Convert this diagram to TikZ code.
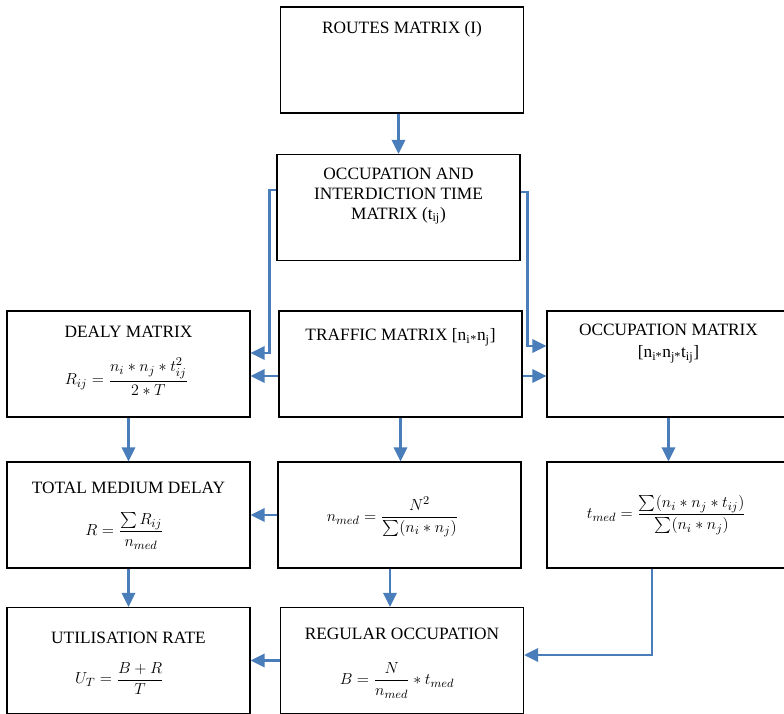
\documentclass[tikz,border=0pt]{standalone}
\usepackage{amsmath}
\usepackage{fontspec}
\setmainfont{Liberation Serif}
\usetikzlibrary{positioning, calc, arrows.meta}
\definecolor{linkblue}{HTML}{4A7EBB}
\tikzstyle{box} = [rectangle, minimum width=182.25pt, minimum height=79.5pt, draw=black, line width=0.9pt, inner sep=0pt]
\tikzstyle{title} = [align=center, font=\fontsize{13}{15}\selectfont, inner sep=0pt]
\tikzstyle{formula} = [font=\fontsize{13}{15}\selectfont, inner sep=0pt]
\tikzstyle{arrow} = [-{Triangle[length=10.5pt,width=10pt]}, draw=linkblue, line width=1.9pt]
\newcommand{\smsum}{{\textstyle\sum}}

\begin{document}
\begin{tikzpicture}[x=0.75pt, y=-0.75pt]
	\useasboundingbox (0,0) rectangle (784,713);
	\clip (0,0) rectangle (784,713);
	% boxes
	\node (routes) [box] at (402,60) {};
	\node (occ) [box] at (398.5,207.5) {};
	\node (delay) [box] at (128.5,364) {};
	\node (traffic) [box] at (400.5,364) {};
	\node (occmat) [box] at (668.5,364) {};
	\node (totdelay) [box] at (128.5,515) {};
	\node (nmed) [box] at (399.5,515) {};
	\node (tmed) [box] at (668.5,515) {};
	\node (util) [box] at (128.5,660.5) {};
	\node (reg) [box] at (402,660.5) {};
	% titles
	\node (routesT) [title] at ($(routes.north)+(0,23)$) {ROUTES MATRIX (I)};
	\node (occT) [title] at ($(occ.north)+(0,42)$) {OCCUPATION AND\\INTERDICTION TIME\\MATRIX (t\textsubscript{ij})};
	\node (delayT) [title] at ($(delay.north)+(0,21)$) {DEALY MATRIX};
	\node (trafficT) [title] at ($(traffic.north)+(0,27)$) {TRAFFIC MATRIX [n\textsubscript{i}\textsubscript{*}n\textsubscript{j}]};
	\node (occmatT) [title] at ($(occmat.north)+(0,33)$) {OCCUPATION MATRIX\\[2pt] [n\textsubscript{i*}n\textsubscript{j*}t\textsubscript{ij}]};
	\node (totdelayT) [title] at ($(totdelay.north)+(0,26)$) {TOTAL MEDIUM DELAY};
	\node (utilT) [title] at ($(util.north)+(0,31)$) {UTILISATION RATE};
	\node (regT) [title] at ($(reg.north)+(0,27)$) {REGULAR OCCUPATION};
	% formulas
	\node (delayF) [formula] at ($(delay.center)+(-2,13)$) {$\displaystyle R_{ij}=\frac{n_i\ast n_j\ast t_{ij}^2}{2\ast T}$};
	\node (totdelayF) [formula] at ($(totdelay.center)+(-4,16)$) {$\displaystyle R=\frac{\smsum\, R_{ij}}{n_{med}}$};
	\node (nmedF) [formula] at ($(nmed.center)+(-7,2)$) {$\displaystyle n_{med}=\frac{N^2}{\smsum(n_i\ast n_j)}$};
	\node (tmedF) [formula] at ($(tmed.center)+(-2,0)$) {$\displaystyle t_{med}=\frac{\smsum(n_i\ast n_j\ast t_{ij})}{\smsum(n_i\ast n_j)}$};
	\node (utilF) [formula] at ($(util.center)+(-9,18)$) {$\displaystyle U_T=\frac{B+R}{T}$};
	\node (regF) [formula] at ($(reg.center)+(-5,20)$) {$\displaystyle B=\frac{N}{n_{med}}\ast t_{med}$};
	% connectors
	\coordinate (nmedS) at ($(nmed.south)+(-9.5,0)$);
	\coordinate (tmedS) at ($(tmed.south)+(-16.5,0)$);
	\draw [arrow] (occ.north |- routes.south) -- (occ.north);
	\draw [arrow] ($(occ.west)+(0,-17.5)$) -- ++(-7,0) |- ($(delay.east)+(0,-11)$);
	\draw [arrow] ($(occ.east)+(0,-15.5)$) -- ++(7,0) |- ($(occmat.west)+(0,-18)$);
	\draw [arrow] ($(traffic.west)+(0,12)$) -- ($(delay.east)+(0,12)$);
	\draw [arrow] ($(traffic.east)+(0,12)$) -- ($(occmat.west)+(0,12)$);
	\draw [arrow] (delay.south) -- (totdelay.north);
	\draw [arrow] (traffic.south) -- (traffic.south |- nmed.north);
	\draw [arrow] (occmat.south) -- (tmed.north);
	\draw [arrow] (nmed.west) -- (nmed.west -| totdelay.east);
	\draw [arrow] (totdelay.south) -- (util.north);
	\draw [arrow] (nmedS) -- (nmedS |- reg.north);
	\draw [arrow] (tmedS) |- ($(reg.east)+(0,-5.5)$);
	\draw [arrow] (reg.west) -- (reg.west -| util.east);
\end{tikzpicture}
\end{document}
